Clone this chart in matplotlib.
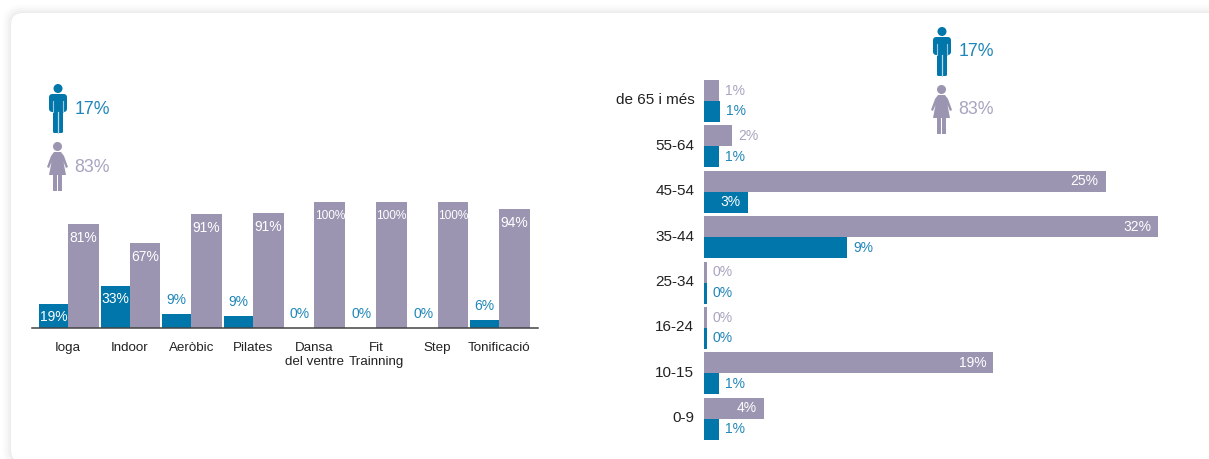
import matplotlib
matplotlib.use("Agg")
import matplotlib.pyplot as plt
import numpy as np
from matplotlib.patches import Circle, FancyBboxPatch, Polygon, Rectangle
from matplotlib.transforms import ScaledTranslation

W, H = 1209, 459
BLUE = "#0076AB"
PURPLE = "#9B95B2"
BLUE_TXT = "#2086B9"
PURPLE_TXT = "#A9A4C0"
DARK = "#222222"
plt.rcParams["font.family"] = ["Liberation Sans", "DejaVu Sans"]

# left chart: activities
activities = ["Ioga", "Indoor", "Aeròbic", "Pilates", "Dansa\ndel ventre",
              "Fit\nTrainning", "Step", "Tonificació"]
men_activity = [19, 33, 11, 9.5, 0, 0, 0, 6.3]
women_activity = [82.5, 67.5, 90.5, 91.3, 100, 100, 100, 94.4]
men_activity_lab = ["19%", "33%", "9%", "9%", "0%", "0%", "0%", "6%"]
women_activity_lab = ["81%", "67%", "91%", "91%", "100%", "100%", "100%", "94%"]

# right chart: age groups (bar lengths as drawn, they do not follow the printed labels exactly)
ages = ["de 65 i més", "55-64", "45-54", "35-44", "25-34", "16-24", "10-15", "0-9"]
women_age = [1.06, 1.97, 28.3, 32, 0.21, 0.21, 20.4, 4.2]
men_age = [1.13, 1.06, 3.1, 10.1, 0.21, 0.21, 1.06, 1.06]
women_age_lab = ["1%", "2%", "25%", "32%", "0%", "0%", "19%", "4%"]
men_age_lab = ["1%", "1%", "3%", "9%", "0%", "0%", "1%", "1%"]

men_total = "17%"
women_total = "83%"


def px_axes(fig, left, top, right, bottom):
    return fig.add_axes([left / W, 1 - bottom / H, (right - left) / W, (bottom - top) / H])


def draw_man(ax, x, y):
    ax.add_patch(Circle((x + 9, y + 4.5), 4.5, fc=BLUE, ec="none"))
    ax.add_patch(FancyBboxPatch((x, y + 10), 18, 18, boxstyle="round,pad=0,rounding_size=3.5", fc=BLUE, ec="none"))
    ax.add_patch(FancyBboxPatch((x + 4, y + 20), 10, 29, boxstyle="round,pad=0,rounding_size=1.5", fc=BLUE, ec="none"))
    ax.plot([x + 3.8, x + 3.8], [y + 17, y + 28], color="#9CC8DE", lw=0.8)
    ax.plot([x + 14.2, x + 14.2], [y + 17, y + 28], color="#9CC8DE", lw=0.8)
    ax.plot([x + 9, x + 9], [y + 28, y + 49], color="#BBD9E8", lw=0.9)


def draw_woman(ax, x, y):
    ax.add_patch(Circle((x + 10.5, y + 4.5), 4.5, fc=PURPLE, ec="none"))
    ax.add_patch(Polygon([(x + 7, y + 10), (x + 14, y + 10), (x + 17, y + 14), (x + 21, y + 25),
                          (x + 19, y + 26), (x + 16.5, y + 20), (x + 19, y + 33), (x + 2, y + 33),
                          (x + 4.5, y + 20), (x + 2, y + 26), (x + 0, y + 25), (x + 4, y + 14)],
                         fc=PURPLE, ec="none"))
    ax.add_patch(Rectangle((x + 6, y + 33), 4.2, 16, fc=PURPLE, ec="none"))
    ax.add_patch(Rectangle((x + 11, y + 33), 4.2, 16, fc=PURPLE, ec="none"))


fig = plt.figure(figsize=(W / 100, H / 100), dpi=100, facecolor="white")

# card with soft shadow, icons and totals live on a pixel canvas
bg = fig.add_axes([0, 0, 1, 1])
bg.set_xlim(0, W)
bg.set_ylim(H, 0)
bg.axis("off")
for grow, alpha in zip([9, 7, 5, 3, 1], [0.006, 0.01, 0.014, 0.018, 0.022]):
    bg.add_patch(FancyBboxPatch((11 - grow, 13 - grow), 1300, 449 + 2 * grow,
                                boxstyle=f"round,pad=0,rounding_size={12 + grow}",
                                fc="black", ec="none", alpha=alpha))
bg.add_patch(FancyBboxPatch((11, 13), 1300, 449, boxstyle="round,pad=0,rounding_size=12",
                            fc="white", ec="none"))

for mx, my, wx, wy, tx, ty in [(49, 84, 47, 142, 110, 109), (933, 27, 931, 85, 994, 52)]:
    draw_man(bg, mx, my)
    draw_woman(bg, wx, wy)
    bg.text(tx, ty, men_total, color=BLUE_TXT, fontsize=12.8, ha="right", va="center")
    bg.text(tx, ty + 58, women_total, color=PURPLE_TXT, fontsize=12.8, ha="right", va="center")

# activities, one x unit is one group
left = px_axes(fig, 32, 202, 538, 328)
left.patch.set_alpha(0)
xpos = np.arange(len(activities))
left.bar(xpos, men_activity, width=-0.47, align="edge", color=BLUE)
left.bar(xpos, women_activity, width=0.5, align="edge", color=PURPLE)
left.set_xlim(-36 / 61.6, 470 / 61.6)
left.set_ylim(0, 100)
left.set_yticks([])
left.set_xticks(xpos, activities, fontsize=9.6, color=DARK, linespacing=1.2)
left.tick_params(axis="x", length=0, pad=10)
for side in ["top", "left", "right"]:
    left.spines[side].set_visible(False)
left.spines["bottom"].set_color("#444444")
left.spines["bottom"].set_linewidth(1.1)
for i in xpos:
    inside = men_activity[i] > 15
    left.annotate(men_activity_lab[i], (i - 0.235, men_activity[i]), xytext=(0, -13 if inside else 14),
                  textcoords="offset pixels", ha="center", va="center", fontsize=10,
                  color="white" if inside else BLUE_TXT, annotation_clip=False)
    left.annotate(women_activity_lab[i], (i + 0.25, women_activity[i]), xytext=(0, -14),
                  textcoords="offset pixels", ha="center", va="center",
                  fontsize=8.6 if women_activity[i] == 100 else 10, color="white", annotation_clip=False)

# age groups, one y unit is one row
right = px_axes(fig, 704, 70, 1158, 450)
right.patch.set_alpha(0)
ypos = np.arange(len(ages))
right.barh(ypos - 0.231, women_age, height=0.4626, color=PURPLE)
right.barh(ypos + 0.231, men_age, height=0.4626, color=BLUE)
right.set_xlim(0, 32)
right.set_ylim((450 - 101) / 45.4, (70 - 101) / 45.4)
right.set_xticks([])
right.set_yticks(ypos, ages, fontsize=11, color=DARK)
right.tick_params(axis="y", length=0, pad=7)
for lab in right.get_yticklabels():
    lab.set_transform(lab.get_transform() + ScaledTranslation(0, 1.5 / 72, fig.dpi_scale_trans))
for side in right.spines:
    right.spines[side].set_visible(False)
for i in ypos:
    # only the longer women bars and the 3% men bar carry their label inside
    for val, lab, yy, col, inside in [(women_age[i], women_age_lab[i], i - 0.231, PURPLE_TXT, women_age[i] > 3),
                                      (men_age[i], men_age_lab[i], i + 0.231, BLUE_TXT, men_age_lab[i] == "3%")]:
        right.annotate(lab, (val, yy), xytext=(-7 if inside else 6, 0), textcoords="offset pixels",
                       ha="right" if inside else "left", va="center", fontsize=10,
                       color="white" if inside else col, annotation_clip=False)

fig.savefig("out.png", dpi=100)
